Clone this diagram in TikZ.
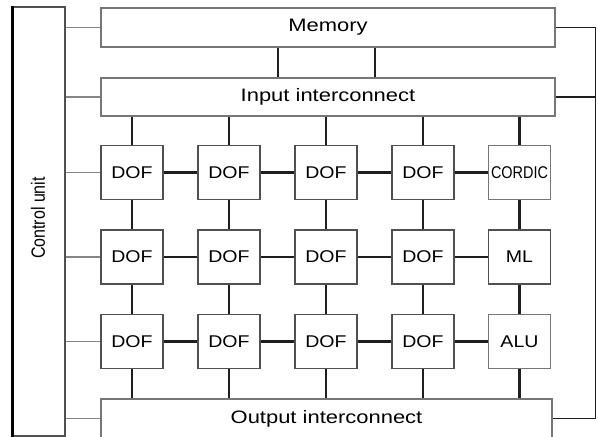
\documentclass[tikz,border=0pt]{standalone}
\usepackage{fontspec}
\setmainfont{Liberation Sans}
\definecolor{boxline}{HTML}{505050}
\definecolor{lightbox}{HTML}{767676}
\definecolor{wire}{HTML}{1E1E1E}
\definecolor{ctl}{HTML}{858585}
\begin{document}
\begin{tikzpicture}[x=1pt,y=-1pt,
  bus/.style={draw=lightbox,line width=1.6pt,minimum width=454pt,inner sep=0pt,
    font=\fontsize{18}{20}\selectfont},
  pe/.style={draw=boxline,line width=1.8pt,minimum width=62pt,minimum height=54pt,inner sep=0pt,
    font=\fontsize{17}{19}\selectfont},
  pel/.style={pe,draw=lightbox},
  wirel/.style={draw=wire,line width=2.3pt},
  ctll/.style={draw=ctl,line width=1.2pt}]
\useasboundingbox (0,0) rectangle (598,437);
\clip (0,0) rectangle (598,437);
% control unit
\node[draw=boxline,line width=1.2pt,minimum width=52pt,minimum height=429pt,inner sep=0pt] (cu) at (39,221.5) {};
\node (cut) at (38,218) {\rotatebox{90}{\fontsize{16}{18}\selectfont\scalebox{1}[1.2]{Control unit}}};
\draw[line width=2.8pt,black] (cu.north west) -- (cu.south west);
% buses
\node[bus,minimum height=39pt] (mem) at (328,27.5) {\scalebox{1.22}[1]{Memory}};
\node[bus,minimum height=38pt] (inp) at (328,97) {\scalebox{1.22}[1]{Input interconnect}};
\node[bus,minimum width=451pt,minimum height=39pt] (out) at (326.5,418.5) {\scalebox{1.22}[1]{Output interconnect}};
% processing elements
\foreach \r/\y in {1/172.5,2/257,3/341.5}{
  \foreach \c/\x in {1/132,2/229,3/326,4/423}{
    \node[pe] (p\r\c) at (\x,\y) {\scalebox{1.15}[1]{DOF}};
  }
}
\node[pel] (p15) at (519.5,172.5) {\scalebox{0.85}[1]{CORDIC}};
\node[pe] (p25) at (519.5,257) {\scalebox{1.15}[1]{ML}};
\node[pel] (p35) at (519.5,341.5) {\scalebox{1.15}[1]{ALU}};
% memory to input
\coordinate (m1) at (278,0);
\coordinate (m2) at (375,0);
\draw[wirel] (mem.south -| m1) -- (inp.north -| m1);
\draw[wirel] (mem.south -| m2) -- (inp.north -| m2);
% grid wiring
\foreach \c in {1,...,5}{
  \draw[wirel] (inp.south -| p1\c) -- (p1\c.north);
  \draw[wirel] (p1\c.south) -- (p2\c.north);
  \draw[wirel] (p2\c.south) -- (p3\c.north);
  \draw[wirel] (p3\c.south) -- (out.north -| p3\c);
}
\foreach \r in {1,2,3}{
  \draw[wirel] (p\r1.east) -- (p\r2.west);
  \draw[wirel] (p\r2.east) -- (p\r3.west);
  \draw[wirel] (p\r3.east) -- (p\r4.west);
  \draw[wirel] (p\r4.east) -- (p\r5.west);
}
% control lines
\foreach \n in {mem,inp,p11,p21,p31,out}{
  \draw[ctll] (cu.east |- \n.west) -- (\n.west);
}
% right return bus
\coordinate (rb) at (595.5,0);
\draw[wirel,line width=1.8pt] (mem.east) -- (mem.east -| rb) -- (out.east -| rb) -- (out.east);
\draw[wirel,line width=1.8pt] (inp.east) -- (inp.east -| rb);
\end{tikzpicture}
\end{document}
